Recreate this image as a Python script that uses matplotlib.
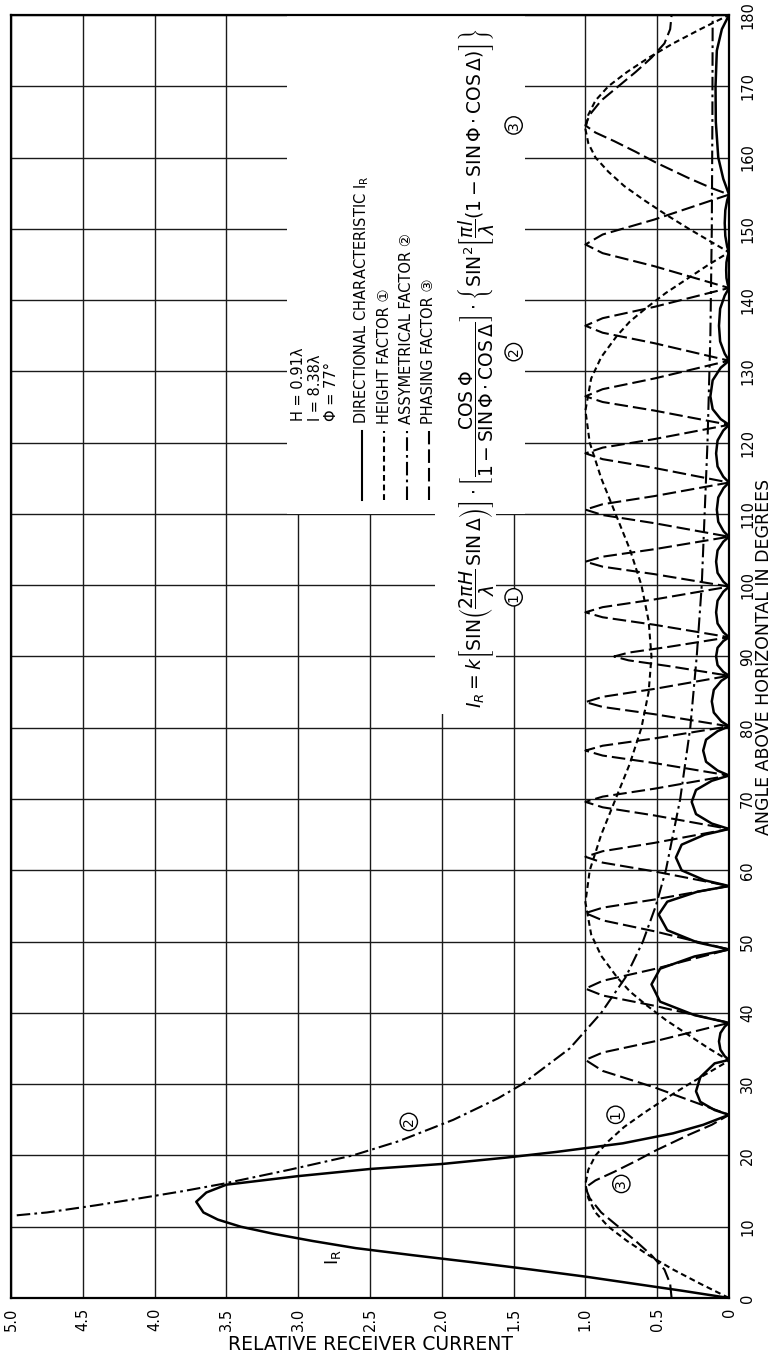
# relative receiver current vs elevation angle, drawn rotated like the original sheet

import matplotlib.pyplot as plt
from matplotlib.patches import Rectangle
from matplotlib.lines import Line2D

plt.rcParams['mathtext.fontset'] = 'dejavusans'

angle_ticks = list(range(0, 181, 10))
current_ticks = [0, 0.5, 1.0, 1.5, 2.0, 2.5, 3.0, 3.5, 4.0, 4.5, 5.0]
current_labels = ['0', '0.5', '1.0', '1.5', '2.0', '2.5', '3.0', '3.5', '4.0', '4.5', '5.0']

# directional characteristic I_R
ir_ang = [0, 1, 2, 3, 4, 5, 6, 7, 8, 9, 10, 11, 12, 13.5, 14.8, 15.9, 17.1, 18.1, 18.8, 19.7,
          20.5, 21.7, 23.1, 24.3, 25.7,
          26.36, 27.52, 29.0, 30.98, 32.92, 33.4,
          33.92, 34.83, 36.0, 37.17, 38.08, 38.6,
          39.68, 41.57, 44.0, 46.2, 47.92, 48.9,
          49.88, 51.6, 53.8, 55.6, 57.0, 57.8,
          58.6, 60.0, 61.8, 63.6, 65.0, 65.8,
          66.56, 67.89, 69.6, 71.27, 72.56, 73.3,
          74.0, 75.23, 76.8, 78.33, 79.52, 80.2,
          80.9, 82.13, 83.7, 85.32, 86.58, 87.3,
          87.84, 88.79, 90.0, 91.22, 92.16, 92.7,
          93.4, 94.63, 96.2, 97.82, 99.08, 99.8,
          100.5, 101.73, 103.3, 104.88, 106.1, 106.8,
          107.56, 108.89, 110.6, 112.31, 113.64, 114.4,
          115.22, 116.66, 118.5, 120.3, 121.7, 122.5,
          123.3, 124.7, 126.5, 128.75, 130.5, 131.5,
          132.48, 134.2, 136.4, 138.79, 140.64, 141.7,
          142.2, 143.1, 144.2, 145.3, 146.2, 146.7,
          147.5, 149.0, 150.8, 152.6, 154.0, 154.8,
          157, 160, 165, 170, 175, 178, 180]
ir_val = [0, 0.32, 0.66, 1.0, 1.38, 1.78, 2.2, 2.6, 2.9, 3.17, 3.4, 3.56, 3.66, 3.71, 3.64, 3.5, 3.0, 2.5, 2.0, 1.55,
          1.2, 0.74, 0.39, 0.18, 0,
          0.10, 0.20, 0.23, 0.20, 0.10, 0,
          0.03, 0.06, 0.07, 0.06, 0.03, 0,
          0.24, 0.48, 0.54, 0.48, 0.24, 0,
          0.22, 0.43, 0.49, 0.43, 0.22, 0,
          0.17, 0.33, 0.37, 0.33, 0.17, 0,
          0.12, 0.23, 0.26, 0.23, 0.12, 0,
          0.08, 0.16, 0.18, 0.16, 0.08, 0,
          0.054, 0.106, 0.12, 0.106, 0.054, 0,
          0.04, 0.08, 0.09, 0.08, 0.04, 0,
          0.04, 0.08, 0.09, 0.08, 0.04, 0,
          0.04, 0.08, 0.09, 0.08, 0.04, 0,
          0.038, 0.075, 0.085, 0.075, 0.038, 0,
          0.04, 0.08, 0.09, 0.08, 0.04, 0,
          0.058, 0.114, 0.13, 0.114, 0.058, 0,
          0.03, 0.062, 0.07, 0.062, 0.03, 0,
          0.009, 0.018, 0.02, 0.018, 0.009, 0,
          0.013, 0.026, 0.03, 0.026, 0.013, 0,
          0.04, 0.075, 0.092, 0.094, 0.085, 0.05, 0]

# height factor (1)
h_ang = [0, 2, 4, 6, 8, 10, 12, 14, 16, 18, 20, 22, 24, 26, 28, 30, 32, 33.3,
         35, 37, 39, 41, 43, 45, 48, 51, 55.5, 60, 65, 70, 75, 80, 85, 90,
         95, 100, 105, 110, 115, 120, 124.5, 129, 132, 135, 137, 139, 141, 143, 145, 146.7,
         148, 150, 152, 154, 156, 158, 160, 162, 164, 166, 168, 170, 172, 174, 176, 178, 180]
h_val = [0, 0.20, 0.39, 0.56, 0.71, 0.84, 0.93, 0.98, 1.0, 0.98, 0.93, 0.84, 0.73, 0.59, 0.44, 0.28, 0.11, 0,
         0.14, 0.29, 0.44, 0.57, 0.69, 0.78, 0.89, 0.96, 1.0, 0.97, 0.89, 0.79, 0.69, 0.61, 0.56, 0.54,
         0.56, 0.61, 0.69, 0.79, 0.89, 0.97, 1.0, 0.96, 0.89, 0.78, 0.69, 0.57, 0.44, 0.29, 0.14, 0,
         0.11, 0.28, 0.44, 0.59, 0.73, 0.84, 0.93, 0.98, 1.0, 0.98, 0.93, 0.84, 0.71, 0.56, 0.39, 0.20, 0]

# asymmetrical factor (2)
a_ang = [11.6, 12, 13, 14, 15, 16, 18, 20, 22, 25, 28, 30, 35, 40, 45, 50, 55, 60,
         70, 80, 90, 100, 110, 120, 135, 150, 165, 180]
a_val = [4.96, 4.75, 4.41, 4.10, 3.80, 3.53, 3.06, 2.62, 2.30, 1.92, 1.61, 1.44, 1.11, 0.89, 0.72, 0.60, 0.51, 0.44,
         0.34, 0.27, 0.225, 0.19, 0.17, 0.15, 0.13, 0.12, 0.116, 0.114]

# phasing factor (3)
p_ang = [0, 2, 4, 6, 8, 10, 12, 14, 15.5, 16.5, 17.7, 19.2, 20.7, 22.9, 24.3, 25.7,
         29.55, 31.86, 33.4, 34.44, 36.0, 38.6,
         41.0, 42.44, 43.4, 44.5, 46.15, 48.9,
         51.45, 52.98, 54.0, 54.76, 55.9, 57.8,
         59.85, 61.08, 61.9, 62.68, 63.85, 65.8,
         67.7, 68.84, 69.6, 70.34, 71.45, 73.3,
         75.05, 76.1, 76.8, 77.48, 78.5, 80.2,
         81.9, 82.92, 83.6, 84.34, 85.45, 87.3,
         88.65, 89.46, 90.0, 90.54, 91.35, 92.7,
         94.45, 95.5, 96.2, 96.92, 98.0, 99.8,
         101.55, 102.6, 103.3, 104.0, 105.05, 106.8,
         108.7, 109.84, 110.6, 111.36, 112.5, 114.4,
         116.45, 117.68, 118.5, 119.3, 120.5, 122.5,
         124.5, 125.7, 126.5, 127.5, 129.0, 131.5,
         133.95, 135.42, 136.4, 137.46, 139.05, 141.7,
         144.75, 146.58, 147.8, 149.2, 151.3, 154.8,
         155.7, 157.1, 159.3, 160.8, 162.3, 163.5, 164.5, 166, 168, 170, 172, 174, 176, 178, 180]
p_val = [0.40, 0.41, 0.45, 0.54, 0.65, 0.77, 0.89, 0.97, 1.0, 0.93, 0.80, 0.65, 0.51, 0.28, 0.12, 0,
         0.52, 0.88, 1.0, 0.88, 0.52, 0,
         0.52, 0.88, 1.0, 0.88, 0.52, 0,
         0.52, 0.88, 1.0, 0.88, 0.52, 0,
         0.52, 0.88, 1.0, 0.88, 0.52, 0,
         0.52, 0.88, 1.0, 0.88, 0.52, 0,
         0.52, 0.88, 1.0, 0.88, 0.52, 0,
         0.52, 0.88, 1.0, 0.88, 0.52, 0,
         0.42, 0.70, 0.80, 0.70, 0.42, 0,
         0.52, 0.88, 1.0, 0.88, 0.52, 0,
         0.52, 0.88, 1.0, 0.88, 0.52, 0,
         0.52, 0.88, 1.0, 0.88, 0.52, 0,
         0.52, 0.88, 1.0, 0.88, 0.52, 0,
         0.52, 0.88, 1.0, 0.88, 0.52, 0,
         0.52, 0.88, 1.0, 0.88, 0.52, 0,
         0.52, 0.88, 1.0, 0.88, 0.52, 0,
         0.12, 0.28, 0.51, 0.65, 0.80, 0.93, 1.0, 0.97, 0.89, 0.77, 0.65, 0.54, 0.45, 0.41, 0.40]

solid = dict(color='black', lw=1.8, zorder=4)
height_style = dict(color='black', lw=1.5, dashes=(2.8, 1.8), zorder=3)
asym_style = dict(color='black', lw=1.5, dashes=(6.5, 2.0, 1.3, 2.0), zorder=3)
phase_style = dict(color='black', lw=1.5, dashes=(6.5, 2.4), zorder=3)

fig = plt.figure(figsize=(7.71, 13.56), dpi=100)
ax = fig.add_axes([0.01427, 0.04277, 0.9313, 0.9462])

ax.plot(ir_val, ir_ang, **solid)
ax.plot(h_val, h_ang, **height_style)
ax.plot(a_val, a_ang, **asym_style)
ax.plot(p_val, p_ang, **phase_style)

ax.set_xlim(5, 0)
ax.set_ylim(0, 180)
ax.set_xticks(current_ticks)
ax.set_xticklabels(current_labels, rotation=90, fontsize=10.5)
ax.set_yticks(angle_ticks)
ax.set_yticklabels([str(a) for a in angle_ticks], rotation=90, fontsize=10.5, va='center')
ax.yaxis.tick_right()
ax.tick_params(axis='both', length=0)
ax.tick_params(axis='x', pad=7)
ax.tick_params(axis='y', pad=8)
ax.grid(True, color='#1a1a1a', lw=1.0)
ax.set_axisbelow(True)
for s in ax.spines.values():
    s.set_linewidth(1.6)

ax.set_xlabel('RELATIVE RECEIVER CURRENT', fontsize=13.5, labelpad=3)
ax.yaxis.set_label_position('right')
ax.set_ylabel('ANGLE ABOVE HORIZONTAL IN DEGREES', fontsize=12.5, labelpad=0, rotation=90)

# blank panels for the notes and the formula
ax.add_patch(Rectangle((1.42, 110), 1.66, 70, fc='white', ec='none', zorder=1))
ax.add_patch(Rectangle((1.62, 82), 0.43, 28, fc='white', ec='none', zorder=1))

txt = dict(rotation=90, rotation_mode='anchor', ha='left', va='center', zorder=6)
circ = ['DejaVu Sans', 'Noto Sans CJK JP']

ax.text(3.0, 123, 'H = 0.91λ', fontsize=10.5, **txt)
ax.text(2.88, 123, 'l = 8.38λ', fontsize=10.5, **txt)
ax.text(2.77, 123, 'Φ = 77°', fontsize=10.5, **txt)

legend_items = [('DIRECTIONAL CHARACTERISTIC $\\mathrm{I_R}$', solid),
                ('HEIGHT FACTOR ①', height_style),
                ('ASSYMETRICAL FACTOR ②', asym_style),
                ('PHASING FACTOR ③', phase_style)]
for i, (label, st) in enumerate(legend_items):
    xf = 0.489 + i * 0.031
    ax.add_line(Line2D([xf, xf], [0.622, 0.676], transform=ax.transAxes,
                       **{k: v for k, v in st.items() if k != 'lw'}, lw=1.5))
    ax.text(xf, 0.681, label, transform=ax.transAxes, fontsize=10.5, family=circ, **txt)

formula = (r'$I_R = k\left[\mathrm{SIN}\left(\dfrac{2\pi H}{\lambda}\,\mathrm{SIN}\,\Delta\right)\right]'
           r'\cdot\left[\dfrac{\mathrm{COS}\;\Phi}{1-\mathrm{SIN}\,\Phi\cdot\mathrm{COS}\,\Delta}\right]'
           r'\cdot\left\{\mathrm{SIN}^2\left[\dfrac{\pi l}{\lambda}\left(1-\mathrm{SIN}\,\Phi\cdot'
           r'\mathrm{COS}\,\Delta\right)\right]\right\}$')
ax.text(1.76, 82.8, formula, fontsize=13.5, **txt)

cbox = dict(boxstyle='circle,pad=0.12', fc='white', ec='black', lw=1.0)
for x, y, s in [(1.50, 98.3, '1'), (1.50, 132.7, '2'), (1.50, 164.5, '3'),
                (2.23, 24.7, '2'), (0.79, 25.7, '1'), (0.75, 16.0, '3')]:
    ax.text(x, y, s, fontsize=10, rotation=90, ha='center', va='center', bbox=cbox, zorder=6)

ax.text(2.76, 5.7, r'$\mathrm{I_R}$', fontsize=13, rotation=90, ha='center', va='center', zorder=6)

fig.savefig('out.png', dpi=100, facecolor='white')
